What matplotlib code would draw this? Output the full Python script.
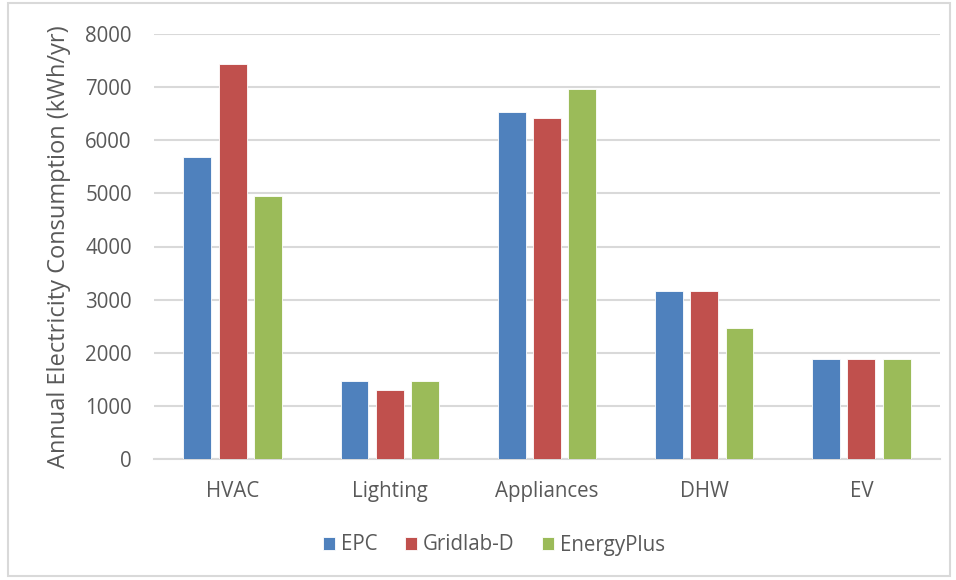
import numpy as np
import matplotlib.pyplot as plt
from matplotlib.patches import Rectangle

categories = ['HVAC', 'Lighting', 'Appliances', 'DHW', 'EV']
series_names = ['EPC', 'Gridlab-D', 'EnergyPlus']
epc = [5690, 1460, 6540, 3155, 1875]
gridlab = [7430, 1290, 6410, 3155, 1875]
energyplus = [4960, 1460, 6965, 2470, 1875]
y_ticks = [0, 1000, 2000, 3000, 4000, 5000, 6000, 7000, 8000]

colors = ['#4F81BD', '#C0504D', '#9BBB59']
text_col = '#595959'
plt.rcParams['font.family'] = ['Open Sans', 'DejaVu Sans']

fig = plt.figure(figsize=(9.56, 5.8), dpi=100)
ax = fig.add_axes([154 / 956, 1 - 459 / 580, 786 / 956, 425 / 580])

x = np.arange(len(categories))
w = 0.177
step = 0.224
for i, (vals, name) in enumerate(zip([epc, gridlab, energyplus], series_names)):
    ax.bar(x + (i - 1) * step, vals, width=w, color=colors[i], label=name,
           edgecolor='white', linewidth=0.6, zorder=3)

ax.set_xlim(-0.5, len(categories) - 0.5)
ax.set_ylim(0, 8000)
ax.set_yticks(y_ticks)
ax.set_xticks(x)
ax.set_xticklabels(categories)
ax.grid(axis='y', color='#D9D9D9', linewidth=1.5, zorder=0)
for s in ['top', 'right', 'left']:
    ax.spines[s].set_visible(False)
ax.spines['bottom'].set_color('#D9D9D9')
ax.spines['bottom'].set_linewidth(1.5)
ax.tick_params(axis='both', length=0, colors=text_col, labelsize=14.8)
ax.tick_params(axis='y', pad=16)
ax.tick_params(axis='x', pad=16)
ax.set_ylabel('Annual Electricity Consumption (kWh/yr)', color=text_col, fontsize=17, labelpad=10)

# legend sits under the plot, a bit right of centre like the original
leg = fig.legend(loc='center', bbox_to_anchor=(494 / 956, 1 - 545 / 580), ncol=3, frameon=False,
                 fontsize=14.8, handlelength=0.6, handleheight=0.6, handletextpad=0.3,
                 columnspacing=1.3)
for t in leg.get_texts():
    t.set_color(text_col)

fig.patches.append(Rectangle((8 / 956, 4 / 580), 942 / 956, 573 / 580, transform=fig.transFigure,
                             fill=False, edgecolor='#D9D9D9', linewidth=1.5))

fig.savefig('out.png', dpi=100)
